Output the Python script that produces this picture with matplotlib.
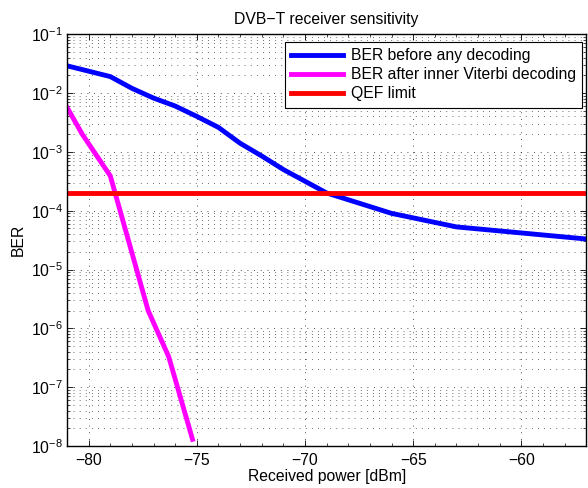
import numpy as np
import matplotlib
matplotlib.use('Agg')
import matplotlib.pyplot as plt
from matplotlib.ticker import LogLocator, MultipleLocator, FuncFormatter

plt.rcParams['font.family'] = ['Liberation Sans', 'DejaVu Sans']
plt.rcParams['mathtext.default'] = 'regular'

# received power [dBm] and BER
p_raw = [-81, -79, -78, -77, -76, -75, -74, -73, -72, -71, -69, -66, -63, -57]
ber_raw = [0.029, 0.019, 0.012, 0.0082, 0.0060, 0.0040, 0.0026, 0.0014,
           0.00085, 0.0005, 0.0002, 9e-5, 5.3e-5, 3.3e-5]

p_vit = [-81, -80.3, -79.0, -77.25, -76.3, -75.2]
ber_vit = [5.7e-3, 2.0e-3, 3.9e-4, 2.0e-6, 3.3e-7, 1.3e-8]

qef_x = [-81, -57]
qef = [2e-4, 2e-4]

fs = 11.3

fig = plt.figure(figsize=(5.88, 4.88), dpi=100)
ax = fig.add_axes([0.114, 0.086, 0.883, 0.844])

ax.semilogy(p_raw, ber_raw, color='#0000ff', lw=3.5, label='BER before any decoding')
ax.semilogy(p_vit, ber_vit, color='#ff00ff', lw=3.5, label='BER after inner Viterbi decoding')
ax.semilogy(qef_x, qef, color='#ff0000', lw=3.5, label='QEF limit')

ax.set_xlim(-81, -57)
ax.set_ylim(1e-8, 1e-1)
ax.xaxis.set_major_locator(MultipleLocator(5))
ax.xaxis.set_minor_locator(MultipleLocator(1))
ax.yaxis.set_major_locator(LogLocator(base=10, numticks=20))
ax.yaxis.set_minor_locator(LogLocator(base=10, subs=np.arange(2, 10), numticks=20))
ax.yaxis.set_major_formatter(FuncFormatter(lambda v, pos: r'$10^{%d}$' % round(np.log10(v))))
ax.xaxis.set_major_formatter(FuncFormatter(lambda v, pos: '%d' % v if v >= 0 else '\u2212%d' % -v))

ax.tick_params(which='both', direction='in', top=True, right=True, labelsize=fs)
ax.tick_params(which='major', length=4, width=0.6)
ax.tick_params(which='minor', length=2, width=0.5)
ax.tick_params(axis='x', pad=5)
ax.tick_params(axis='y', pad=3)

ax.grid(True, which='major', color='0.1', ls=(0, (1, 7)), lw=0.6)
ax.grid(True, which='minor', axis='y', color='0.1', ls=(0, (1, 7)), lw=0.55)
for s in ax.spines.values():
    s.set_linewidth(1.0)

ax.set_title('DVB\u2212T receiver sensitivity', fontsize=fs, pad=7)
ax.set_xlabel('Received power [dBm]', fontsize=fs, labelpad=1)
ax.set_ylabel('BER', fontsize=fs, labelpad=4)

leg = ax.legend(loc='upper right', bbox_to_anchor=(0.9923, 0.9806), fontsize=fs,
                fancybox=False, framealpha=1, edgecolor='k', borderaxespad=0,
                handlelength=3.3, handletextpad=0.5,
                borderpad=0.4, labelspacing=0.25)
leg.get_frame().set_linewidth(0.8)

fig.savefig('out.png', dpi=100)
